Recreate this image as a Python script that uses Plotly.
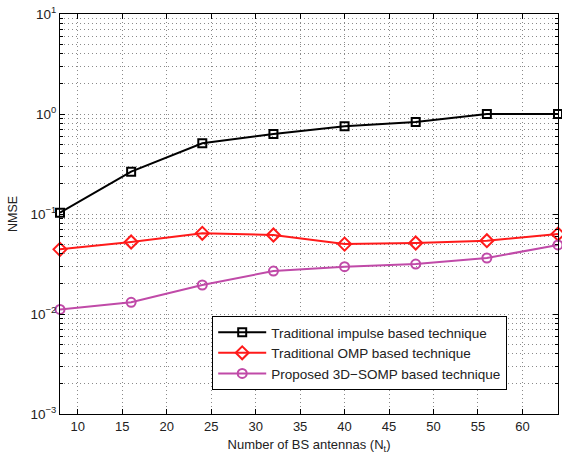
import plotly.graph_objects as go

nt = [8, 16, 24, 32, 40, 48, 56, 64]
impulse = [0.103, 0.265, 0.509, 0.63, 0.753, 0.83, 1.0, 1.0]
omp = [0.0443, 0.0525, 0.0641, 0.0617, 0.050, 0.0513, 0.0541, 0.063]
somp = [0.0111, 0.0131, 0.0195, 0.0269, 0.0297, 0.0316, 0.0363, 0.049]

names = ["Traditional impulse based technique",
         "Traditional OMP based technique",
         "Proposed 3D\u2212SOMP based technique"]

y_major = [1e-3, 1e-2, 1e-1, 1, 10]
y_major_text = ["10<sup>\u22123</sup>", "10<sup>\u22122</sup>", "10<sup>\u22121</sup>",
                "10<sup>0</sup>", "10<sup>1</sup>"]
y_minor = [m * 10 ** e for e in range(-3, 1) for m in range(2, 10)]
x_ticks = [10, 15, 20, 25, 30, 35, 40, 45, 50, 55, 60]

fig = go.Figure()
styles = [
    (impulse, "#000000", "square-open", 8),
    (omp, "#ff1a1a", "diamond-open", 10),
    (somp, "#c04aa8", "circle-open", 9),
]
for (vals, col, sym, sz), nm in zip(styles, names):
    fig.add_trace(go.Scatter(
        x=nt, y=vals, name=nm, mode="lines+markers",
        line=dict(color=col, width=2),
        marker=dict(symbol=sym, size=sz, color=col, line=dict(width=2, color=col)),
        cliponaxis=False,
    ))

grid_col = "#8a8a8a"
grid_dash = "1px,3px"
fig.update_layout(
    width=562, height=459,
    margin=dict(l=60, r=4, t=14, b=45),
    paper_bgcolor="white", plot_bgcolor="white",
    font=dict(family="Liberation Sans, Arial, sans-serif", size=12, color="#222"),
    showlegend=True,
    legend=dict(x=0.898, y=0.06, xanchor="right", yanchor="bottom",
                bgcolor="white", bordercolor="#000", borderwidth=1,
                font=dict(size=13.5), tracegroupgap=0, itemwidth=48),
    xaxis=dict(
        range=[8, 64], tickmode="array", tickvals=x_ticks,
        showline=True, linecolor="#000", linewidth=1, mirror="ticks",
        ticks="inside", ticklen=5, tickcolor="#000",
        showgrid=True, gridcolor=grid_col, griddash=grid_dash, gridwidth=1,
        zeroline=False, automargin=False,
        title=dict(text="Number of BS antennas (N<sub>t</sub>)", standoff=7,
                   font=dict(size=13)),
        tickfont=dict(size=13),
        ticklabeloverflow="allow",
    ),
    yaxis=dict(
        type="log", range=[-3, 1], tickmode="array",
        tickvals=y_major, ticktext=y_major_text,
        showline=True, linecolor="#000", linewidth=1, mirror="ticks",
        ticks="inside", ticklen=5, tickcolor="#000",
        showgrid=True, gridcolor=grid_col, griddash=grid_dash, gridwidth=1,
        minor=dict(tickmode="array", tickvals=y_minor, ticks="inside", ticklen=3,
                   tickcolor="#000", showgrid=True, gridcolor=grid_col,
                   griddash=grid_dash, gridwidth=1),
        zeroline=False, automargin=False,
        title=dict(text="NMSE", standoff=10, font=dict(size=12.5)),
        tickfont=dict(size=13.5),
        ticklabeloverflow="allow",
    ),
)

# remove the default 8px page margin so the figure fills the window exactly
fig.write_html("out.html", config={"displayModeBar": False},
               post_script="document.body.style.margin='0';")
